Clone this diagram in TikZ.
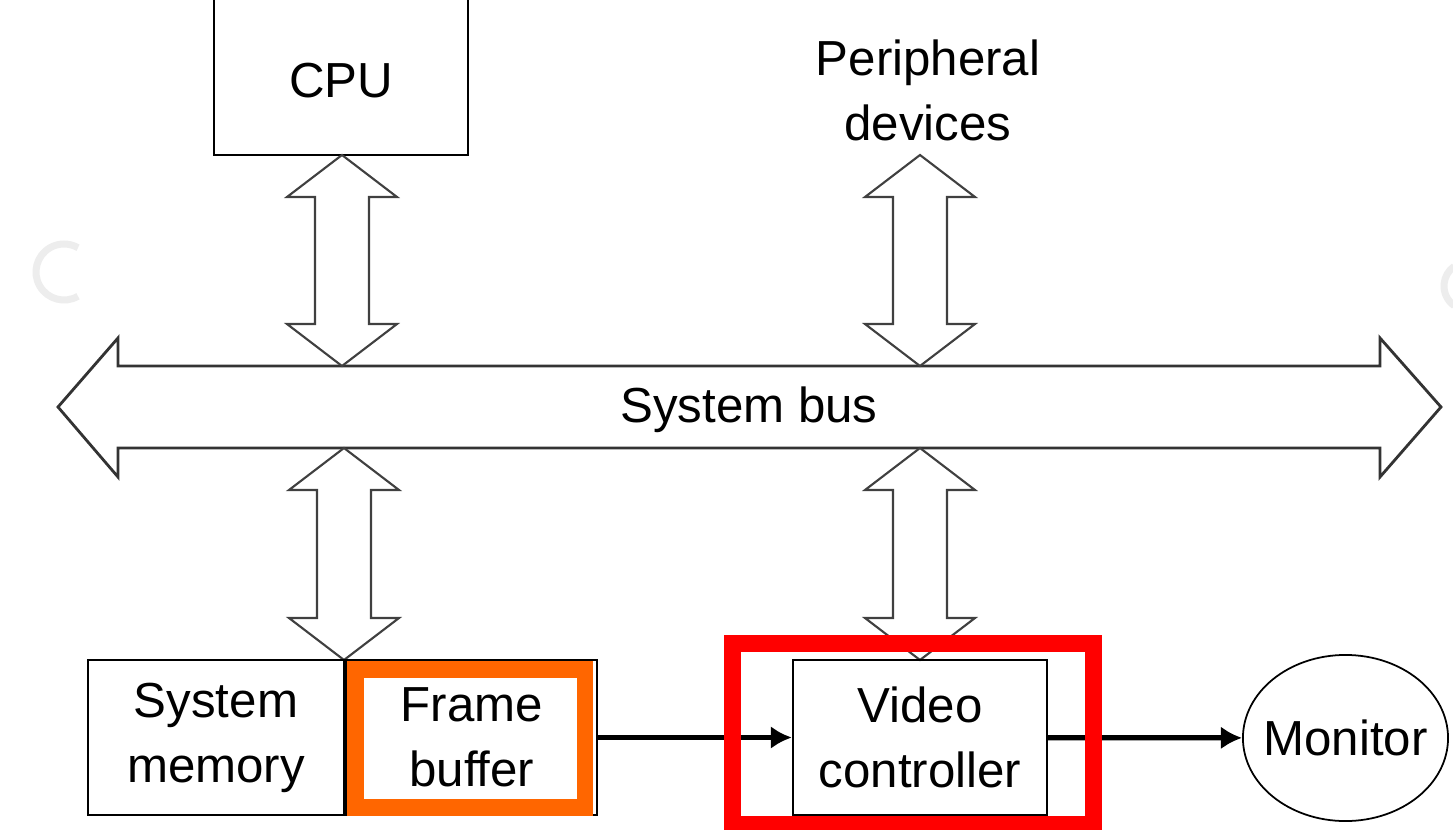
\documentclass[tikz,border=0pt]{standalone}
\usepackage{fontspec}
\setmainfont{Liberation Sans}
\usetikzlibrary{arrows.meta,shapes.geometric,positioning}
\definecolor{fborange}{RGB}{255,102,0}
\tikzset{>={Latex[width=6.5pt,length=6pt]}}
\tikzset{box/.style={shape=rectangle, draw, line width=.6pt, inner sep=0pt,
    align=center, minimum width=2.54cm, minimum height=1.55cm}}
\tikzset{fat/.style={draw=black!75, line width=.6pt, fill=white, line join=miter}}
\tikzset{busline/.style={draw=black!80, line width=.8pt, fill=white}}
\tikzset{wire/.style={->, line width=1.5pt}}
\tikzset{hilite/.style={draw=#1, line width=.165cm}}
\tikzset{ghost/.style={draw=black!7, line width=.07cm}}

\begin{document}
\begin{tikzpicture}[x=.01cm, y=-.01cm,
    every node/.style={font=\fontsize{14}{18.5}\selectfont}]
    \useasboundingbox (0,0) rectangle (1453,830);
    \clip (0,0) rectangle (1453,830);
    \fill[white] (0,0) rectangle (1453,830);
    % faint marks near the edges
    \draw[ghost] (64,272) ++(60:28) arc (60:300:28);
    \draw[ghost] (1468,286) ++(125:24) arc (125:235:24);
    % top row
    \node[box, minimum width=2.54cm, minimum height=1.7cm,
      text height=.55cm, text depth=0pt] (cpu) at (341,70) {CPU};
    \node[align=center] (per) at (928,90) {Peripheral\\devices};
    % the bus, a wide double arrow
    \draw[busline] (58,407) -- (118,338) -- (118,366) -- (1380,366) -- (1380,338)
      -- (1441,407) -- (1380,477) -- (1380,448) -- (118,448) -- (118,477) -- cycle;
    \node (bus) at (749,410) {System bus};
    % hollow double arrows to and from the bus
    \foreach \x/\t/\b in {342/155/366, 920/155/366, 344/448/660, 920/448/660}
      \draw[fat] (\x,\t) -- ++(55,42) -- ++(-28,0) -- (\x+27,\b-42) -- ++(28,0)
        -- (\x,\b) -- ++(-55,-42) -- ++(28,0) -- (\x-27,\t+42) -- ++(-28,0) -- cycle;
    % bottom row
    \node[box, minimum width=2.56cm] (mem) at (216,737.5) {System\\memory};
    \node[box, minimum width=2.51cm, right=0pt of mem] (fb) {Frame\\buffer};
    \node[box] (vc) at (920,737.5) {Video\\controller};
    \node[shape=ellipse, draw, line width=.5pt, inner xsep=-.12cm, inner ysep=0pt,
      minimum width=2.05cm, minimum height=1.66cm] (mon) at (1345.5,738) {Monitor};
    \draw[wire] (fb) -- (vc);
    \draw[wire] (vc) -- (mon);
    % highlights
    \draw[hilite=fborange] ([shift={(10.5,10.5)}]fb.north west)
      rectangle ([shift={(-13.5,-8.5)}]fb.south east);
    \draw[hilite=red] ([shift={(-59.5,-15.5)}]vc.north west)
      rectangle ([shift={(45.5,8)}]vc.south east);
  \end{tikzpicture}
\end{document}
